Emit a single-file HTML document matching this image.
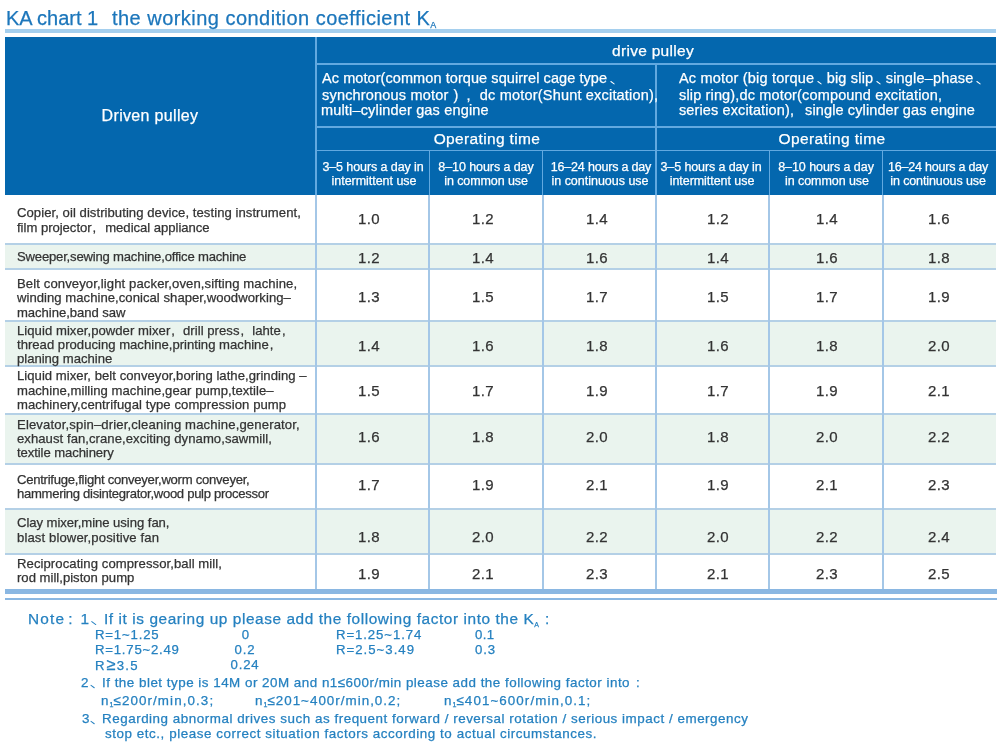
<!DOCTYPE html>
<html><head><meta charset="utf-8"><title>KA chart</title><style>
html,body{margin:0;padding:0;background:#fff;}
body{width:1000px;height:746px;position:relative;overflow:hidden;font-family:"Liberation Sans",sans-serif;}
.r{position:absolute;}
.t{position:absolute;white-space:pre;-webkit-text-stroke:0.25px currentColor;will-change:transform;}
.sub{font-size:9px;letter-spacing:0;vertical-align:-3px;}
.sub2{font-size:7px;letter-spacing:0;vertical-align:-3px;}
.sub3{font-size:7px;letter-spacing:0;vertical-align:-2px;}
.dun{display:inline-block;height:0;position:relative;}
.dun i{position:absolute;top:-0.24em;width:0.095em;height:0.36em;border-radius:0.05em;background:currentColor;transform:rotate(-54deg);}
</style></head><body>
<div class="r" style="left:5px;top:29px;width:991px;height:4px;background:#a5cfee"></div>
<div class="r" style="left:5px;top:37px;width:991px;height:158px;background:#0467ae"></div>
<div class="r" style="left:315px;top:37px;width:2px;height:158px;background:#62a9e0"></div>
<div class="r" style="left:317px;top:63px;width:679px;height:2px;background:#62a9e0"></div>
<div class="r" style="left:317px;top:126px;width:679px;height:2px;background:#62a9e0"></div>
<div class="r" style="left:317px;top:150px;width:679px;height:1px;background:#62a9e0"></div>
<div class="r" style="left:655px;top:65px;width:2px;height:130px;background:#62a9e0"></div>
<div class="r" style="left:429px;top:151px;width:1px;height:44px;background:#62a9e0"></div>
<div class="r" style="left:542px;top:151px;width:1px;height:44px;background:#62a9e0"></div>
<div class="r" style="left:769px;top:151px;width:1px;height:44px;background:#62a9e0"></div>
<div class="r" style="left:882px;top:151px;width:1px;height:44px;background:#62a9e0"></div>
<div class="r" style="left:5px;top:195px;width:991px;height:49px;background:#ffffff"></div>
<div class="r" style="left:5px;top:244px;width:991px;height:25px;background:#eaf4ee"></div>
<div class="r" style="left:5px;top:269px;width:991px;height:52px;background:#ffffff"></div>
<div class="r" style="left:5px;top:321px;width:991px;height:45px;background:#eaf4ee"></div>
<div class="r" style="left:5px;top:366px;width:991px;height:48px;background:#ffffff"></div>
<div class="r" style="left:5px;top:414px;width:991px;height:50px;background:#eaf4ee"></div>
<div class="r" style="left:5px;top:464px;width:991px;height:45px;background:#ffffff"></div>
<div class="r" style="left:5px;top:509px;width:991px;height:45px;background:#eaf4ee"></div>
<div class="r" style="left:5px;top:554px;width:991px;height:35px;background:#ffffff"></div>
<div class="r" style="left:5px;top:243px;width:991px;height:2px;background:#b4d0e6"></div>
<div class="r" style="left:5px;top:268px;width:991px;height:2px;background:#b4d0e6"></div>
<div class="r" style="left:5px;top:320px;width:991px;height:2px;background:#b4d0e6"></div>
<div class="r" style="left:5px;top:365px;width:991px;height:2px;background:#b4d0e6"></div>
<div class="r" style="left:5px;top:413px;width:991px;height:2px;background:#b4d0e6"></div>
<div class="r" style="left:5px;top:463px;width:991px;height:2px;background:#b4d0e6"></div>
<div class="r" style="left:5px;top:508px;width:991px;height:2px;background:#b4d0e6"></div>
<div class="r" style="left:5px;top:553px;width:991px;height:2px;background:#b4d0e6"></div>
<div class="r" style="left:315px;top:195px;width:2px;height:394px;background:#a4c7e7"></div>
<div class="r" style="left:428px;top:195px;width:2px;height:394px;background:#a4c7e7"></div>
<div class="r" style="left:542px;top:195px;width:2px;height:394px;background:#a4c7e7"></div>
<div class="r" style="left:655px;top:195px;width:2px;height:394px;background:#a4c7e7"></div>
<div class="r" style="left:768px;top:195px;width:2px;height:394px;background:#a4c7e7"></div>
<div class="r" style="left:882px;top:195px;width:2px;height:394px;background:#a4c7e7"></div>
<div class="r" style="left:5px;top:589px;width:992px;height:5px;background:#8ab7e2"></div>
<div class="r" style="left:5px;top:598px;width:992px;height:2px;background:#8ab7e2"></div>
<div class="t" style="top:7.60px;font-size:20px;line-height:20px;color:#1c76bb;letter-spacing:-0.015px;left:5.50px;">KA chart 1</div>
<div class="t" style="top:7.60px;font-size:20px;line-height:20px;color:#1c76bb;letter-spacing:0.466px;left:112.10px;">the working condition coefficient K<span class="sub">A</span></div>
<div class="t" style="top:107.50px;font-size:16px;line-height:16px;color:#ffffff;letter-spacing:0.333px;left:-49.62px;width:400px;text-align:center;">Driven pulley</div>
<div class="t" style="top:42.75px;font-size:15.5px;line-height:15.5px;color:#ffffff;letter-spacing:0.295px;left:453.06px;width:400px;text-align:center;">drive pulley</div>
<div class="t" style="top:130.95px;font-size:15.5px;line-height:15.5px;color:#ffffff;letter-spacing:0.349px;left:286.62px;width:400px;text-align:center;">Operating time</div>
<div class="t" style="top:130.95px;font-size:15.5px;line-height:15.5px;color:#ffffff;letter-spacing:0.368px;left:632.00px;width:400px;text-align:center;">Operating time</div>
<div class="t" style="top:70.75px;font-size:14.5px;line-height:14.5px;color:#ffffff;letter-spacing:0.074px;left:322.22px;">Ac motor(common torque squirrel cage type<span class="dun" style="width:0.85em"><i style="left:0.32em"></i></span></div>
<div class="t" style="top:87.75px;font-size:14.5px;line-height:14.5px;color:#ffffff;letter-spacing:0.191px;left:322.22px;">synchronous motor<span style="display:inline-block;width:5px"></span>)<span style="display:inline-block;width:8px"></span>,<span style="display:inline-block;width:9px"></span>dc motor(Shunt excitation),</div>
<div class="t" style="top:102.75px;font-size:14.5px;line-height:14.5px;color:#ffffff;letter-spacing:0.164px;left:321.42px;">multi–cylinder gas engine</div>
<div class="t" style="top:70.75px;font-size:14.5px;line-height:14.5px;color:#ffffff;letter-spacing:0.198px;left:678.50px;">Ac motor (big torque<span class="dun" style="width:0.85em"><i style="left:0.32em"></i></span>big slip<span class="dun" style="width:0.85em"><i style="left:0.32em"></i></span>single–phase<span class="dun" style="width:0.85em"><i style="left:0.32em"></i></span></div>
<div class="t" style="top:87.75px;font-size:14.5px;line-height:14.5px;color:#ffffff;letter-spacing:0.151px;left:678.50px;">slip ring),dc motor(compound excitation,</div>
<div class="t" style="top:102.75px;font-size:14.5px;line-height:14.5px;color:#ffffff;letter-spacing:0.118px;left:678.50px;">series excitation)<span style="display:inline-block;width:0px"></span>,<span style="display:inline-block;width:11px"></span>single cylinder gas engine</div>
<div class="t" style="top:160.75px;font-size:12.5px;line-height:12.5px;color:#ffffff;letter-spacing:-0.090px;left:307.50px;width:130px;text-align:center;">3–5 hours a day in</div>
<div class="t" style="top:174.75px;font-size:12.5px;line-height:12.5px;color:#ffffff;letter-spacing:-0.034px;left:308.66px;width:130px;text-align:center;">intermittent use</div>
<div class="t" style="top:160.75px;font-size:12.5px;line-height:12.5px;color:#ffffff;letter-spacing:-0.079px;left:421.16px;width:130px;text-align:center;">8–10 hours a day</div>
<div class="t" style="top:174.75px;font-size:12.5px;line-height:12.5px;color:#ffffff;letter-spacing:-0.090px;left:421.05px;width:130px;text-align:center;">in common use</div>
<div class="t" style="top:160.75px;font-size:12.5px;line-height:12.5px;color:#ffffff;letter-spacing:-0.185px;left:535.77px;width:130px;text-align:center;">16–24 hours a day</div>
<div class="t" style="top:174.75px;font-size:12.5px;line-height:12.5px;color:#ffffff;letter-spacing:-0.016px;left:535.27px;width:130px;text-align:center;">in continuous use</div>
<div class="t" style="top:160.75px;font-size:12.5px;line-height:12.5px;color:#ffffff;letter-spacing:-0.100px;left:646.10px;width:130px;text-align:center;">3–5 hours a day in</div>
<div class="t" style="top:174.75px;font-size:12.5px;line-height:12.5px;color:#ffffff;letter-spacing:-0.056px;left:646.60px;width:130px;text-align:center;">intermittent use</div>
<div class="t" style="top:160.75px;font-size:12.5px;line-height:12.5px;color:#ffffff;letter-spacing:-0.056px;left:761.10px;width:130px;text-align:center;">8–10 hours a day</div>
<div class="t" style="top:174.75px;font-size:12.5px;line-height:12.5px;color:#ffffff;letter-spacing:-0.069px;left:762.10px;width:130px;text-align:center;">in common use</div>
<div class="t" style="top:160.75px;font-size:12.5px;line-height:12.5px;color:#ffffff;letter-spacing:-0.212px;left:873.20px;width:130px;text-align:center;">16–24 hours a day</div>
<div class="t" style="top:174.75px;font-size:12.5px;line-height:12.5px;color:#ffffff;letter-spacing:-0.106px;left:872.70px;width:130px;text-align:center;">in continuous use</div>
<div class="t" style="top:205.95px;font-size:13.1px;line-height:13.1px;color:#333333;letter-spacing:0.057px;left:17.46px;">Copier, oil distributing device, testing instrument,</div>
<div class="t" style="top:220.95px;font-size:13.1px;line-height:13.1px;color:#333333;letter-spacing:-0.025px;left:17.46px;">film projector<span style="display:inline-block;width:1px"></span>,<span style="display:inline-block;width:9px"></span>medical appliance</div>
<div class="t" style="top:249.95px;font-size:13.1px;line-height:13.1px;color:#333333;letter-spacing:-0.195px;left:16.66px;">Sweeper,sewing machine,office machine</div>
<div class="t" style="top:276.95px;font-size:13.1px;line-height:13.1px;color:#333333;letter-spacing:0.107px;left:16.66px;">Belt conveyor,light packer,oven,sifting machine,</div>
<div class="t" style="top:290.95px;font-size:13.1px;line-height:13.1px;color:#333333;letter-spacing:0.038px;left:17.46px;">winding machine,conical shaper,woodworking–</div>
<div class="t" style="top:305.95px;font-size:13.1px;line-height:13.1px;color:#333333;letter-spacing:-0.045px;left:16.66px;">machine,band saw</div>
<div class="t" style="top:323.95px;font-size:13.1px;line-height:13.1px;color:#333333;letter-spacing:0.048px;left:16.66px;">Liquid mixer,powder mixer<span style="display:inline-block;width:1px"></span>,<span style="display:inline-block;width:8px"></span>drill press<span style="display:inline-block;width:1px"></span>,<span style="display:inline-block;width:8px"></span>lahte<span style="display:inline-block;width:1px"></span>,<span style="display:inline-block;width:0px"></span></div>
<div class="t" style="top:337.95px;font-size:13.1px;line-height:13.1px;color:#333333;letter-spacing:0.014px;left:17.46px;">thread producing machine,printing machine<span style="display:inline-block;width:1px"></span>,<span style="display:inline-block;width:0px"></span></div>
<div class="t" style="top:351.95px;font-size:13.1px;line-height:13.1px;color:#333333;letter-spacing:-0.012px;left:16.66px;">planing machine</div>
<div class="t" style="top:368.95px;font-size:13.1px;line-height:13.1px;color:#333333;letter-spacing:0.041px;left:16.66px;">Liquid mixer, belt conveyor,boring lathe,grinding –</div>
<div class="t" style="top:383.95px;font-size:13.1px;line-height:13.1px;color:#333333;letter-spacing:0.045px;left:16.66px;">machine,milling machine,gear pump,textile–</div>
<div class="t" style="top:397.95px;font-size:13.1px;line-height:13.1px;color:#333333;letter-spacing:0.071px;left:16.66px;">machinery,centrifugal type compression pump</div>
<div class="t" style="top:417.95px;font-size:13.1px;line-height:13.1px;color:#333333;letter-spacing:0.149px;left:16.66px;">Elevator,spin–drier,cleaning machine,generator,</div>
<div class="t" style="top:431.95px;font-size:13.1px;line-height:13.1px;color:#333333;letter-spacing:0.056px;left:17.46px;">exhaust fan,crane,exciting dynamo,sawmill,</div>
<div class="t" style="top:445.95px;font-size:13.1px;line-height:13.1px;color:#333333;letter-spacing:-0.085px;left:17.46px;">textile machinery</div>
<div class="t" style="top:472.95px;font-size:13.1px;line-height:13.1px;color:#333333;letter-spacing:-0.259px;left:17.46px;">Centrifuge,flight conveyer,worm conveyer,</div>
<div class="t" style="top:486.95px;font-size:13.1px;line-height:13.1px;color:#333333;letter-spacing:-0.306px;left:16.66px;">hammering disintegrator,wood pulp processor</div>
<div class="t" style="top:515.95px;font-size:13.1px;line-height:13.1px;color:#333333;letter-spacing:-0.042px;left:17.46px;">Clay mixer,mine using fan,</div>
<div class="t" style="top:530.95px;font-size:13.1px;line-height:13.1px;color:#333333;letter-spacing:0.122px;left:16.66px;">blast blower,positive fan</div>
<div class="t" style="top:556.95px;font-size:13.1px;line-height:13.1px;color:#333333;letter-spacing:0.077px;left:16.66px;">Reciprocating compressor,ball mill,</div>
<div class="t" style="top:570.95px;font-size:13.1px;line-height:13.1px;color:#333333;letter-spacing:0.009px;left:16.66px;">rod mill,piston pump</div>
<div class="t" style="top:210.60px;font-size:15px;line-height:15px;color:#333333;letter-spacing:0.300px;left:328.80px;width:80px;text-align:center;">1.0</div>
<div class="t" style="top:210.60px;font-size:15px;line-height:15px;color:#333333;letter-spacing:0.300px;left:442.60px;width:80px;text-align:center;">1.2</div>
<div class="t" style="top:210.60px;font-size:15px;line-height:15px;color:#333333;letter-spacing:0.300px;left:557.20px;width:80px;text-align:center;">1.4</div>
<div class="t" style="top:210.60px;font-size:15px;line-height:15px;color:#333333;letter-spacing:0.300px;left:677.50px;width:80px;text-align:center;">1.2</div>
<div class="t" style="top:210.60px;font-size:15px;line-height:15px;color:#333333;letter-spacing:0.300px;left:787.40px;width:80px;text-align:center;">1.4</div>
<div class="t" style="top:210.60px;font-size:15px;line-height:15px;color:#333333;letter-spacing:0.300px;left:898.60px;width:80px;text-align:center;">1.6</div>
<div class="t" style="top:249.90px;font-size:15px;line-height:15px;color:#333333;letter-spacing:0.300px;left:328.80px;width:80px;text-align:center;">1.2</div>
<div class="t" style="top:249.90px;font-size:15px;line-height:15px;color:#333333;letter-spacing:0.300px;left:442.60px;width:80px;text-align:center;">1.4</div>
<div class="t" style="top:249.90px;font-size:15px;line-height:15px;color:#333333;letter-spacing:0.300px;left:557.20px;width:80px;text-align:center;">1.6</div>
<div class="t" style="top:249.90px;font-size:15px;line-height:15px;color:#333333;letter-spacing:0.300px;left:677.50px;width:80px;text-align:center;">1.4</div>
<div class="t" style="top:249.90px;font-size:15px;line-height:15px;color:#333333;letter-spacing:0.300px;left:787.40px;width:80px;text-align:center;">1.6</div>
<div class="t" style="top:249.90px;font-size:15px;line-height:15px;color:#333333;letter-spacing:0.300px;left:898.60px;width:80px;text-align:center;">1.8</div>
<div class="t" style="top:289.10px;font-size:15px;line-height:15px;color:#333333;letter-spacing:0.300px;left:328.80px;width:80px;text-align:center;">1.3</div>
<div class="t" style="top:289.10px;font-size:15px;line-height:15px;color:#333333;letter-spacing:0.300px;left:442.60px;width:80px;text-align:center;">1.5</div>
<div class="t" style="top:289.10px;font-size:15px;line-height:15px;color:#333333;letter-spacing:0.300px;left:557.20px;width:80px;text-align:center;">1.7</div>
<div class="t" style="top:289.10px;font-size:15px;line-height:15px;color:#333333;letter-spacing:0.300px;left:677.50px;width:80px;text-align:center;">1.5</div>
<div class="t" style="top:289.10px;font-size:15px;line-height:15px;color:#333333;letter-spacing:0.300px;left:787.40px;width:80px;text-align:center;">1.7</div>
<div class="t" style="top:289.10px;font-size:15px;line-height:15px;color:#333333;letter-spacing:0.300px;left:898.60px;width:80px;text-align:center;">1.9</div>
<div class="t" style="top:337.50px;font-size:15px;line-height:15px;color:#333333;letter-spacing:0.300px;left:328.80px;width:80px;text-align:center;">1.4</div>
<div class="t" style="top:337.50px;font-size:15px;line-height:15px;color:#333333;letter-spacing:0.300px;left:442.60px;width:80px;text-align:center;">1.6</div>
<div class="t" style="top:337.50px;font-size:15px;line-height:15px;color:#333333;letter-spacing:0.300px;left:557.20px;width:80px;text-align:center;">1.8</div>
<div class="t" style="top:337.50px;font-size:15px;line-height:15px;color:#333333;letter-spacing:0.300px;left:677.50px;width:80px;text-align:center;">1.6</div>
<div class="t" style="top:337.50px;font-size:15px;line-height:15px;color:#333333;letter-spacing:0.300px;left:787.40px;width:80px;text-align:center;">1.8</div>
<div class="t" style="top:337.50px;font-size:15px;line-height:15px;color:#333333;letter-spacing:0.300px;left:898.60px;width:80px;text-align:center;">2.0</div>
<div class="t" style="top:383.40px;font-size:15px;line-height:15px;color:#333333;letter-spacing:0.300px;left:328.80px;width:80px;text-align:center;">1.5</div>
<div class="t" style="top:383.40px;font-size:15px;line-height:15px;color:#333333;letter-spacing:0.300px;left:442.60px;width:80px;text-align:center;">1.7</div>
<div class="t" style="top:383.40px;font-size:15px;line-height:15px;color:#333333;letter-spacing:0.300px;left:557.20px;width:80px;text-align:center;">1.9</div>
<div class="t" style="top:383.40px;font-size:15px;line-height:15px;color:#333333;letter-spacing:0.300px;left:677.50px;width:80px;text-align:center;">1.7</div>
<div class="t" style="top:383.40px;font-size:15px;line-height:15px;color:#333333;letter-spacing:0.300px;left:787.40px;width:80px;text-align:center;">1.9</div>
<div class="t" style="top:383.40px;font-size:15px;line-height:15px;color:#333333;letter-spacing:0.300px;left:898.60px;width:80px;text-align:center;">2.1</div>
<div class="t" style="top:429.40px;font-size:15px;line-height:15px;color:#333333;letter-spacing:0.300px;left:328.80px;width:80px;text-align:center;">1.6</div>
<div class="t" style="top:429.40px;font-size:15px;line-height:15px;color:#333333;letter-spacing:0.300px;left:442.60px;width:80px;text-align:center;">1.8</div>
<div class="t" style="top:429.40px;font-size:15px;line-height:15px;color:#333333;letter-spacing:0.300px;left:557.20px;width:80px;text-align:center;">2.0</div>
<div class="t" style="top:429.40px;font-size:15px;line-height:15px;color:#333333;letter-spacing:0.300px;left:677.50px;width:80px;text-align:center;">1.8</div>
<div class="t" style="top:429.40px;font-size:15px;line-height:15px;color:#333333;letter-spacing:0.300px;left:787.40px;width:80px;text-align:center;">2.0</div>
<div class="t" style="top:429.40px;font-size:15px;line-height:15px;color:#333333;letter-spacing:0.300px;left:898.60px;width:80px;text-align:center;">2.2</div>
<div class="t" style="top:476.90px;font-size:15px;line-height:15px;color:#333333;letter-spacing:0.300px;left:328.80px;width:80px;text-align:center;">1.7</div>
<div class="t" style="top:476.90px;font-size:15px;line-height:15px;color:#333333;letter-spacing:0.300px;left:442.60px;width:80px;text-align:center;">1.9</div>
<div class="t" style="top:476.90px;font-size:15px;line-height:15px;color:#333333;letter-spacing:0.300px;left:557.20px;width:80px;text-align:center;">2.1</div>
<div class="t" style="top:476.90px;font-size:15px;line-height:15px;color:#333333;letter-spacing:0.300px;left:677.50px;width:80px;text-align:center;">1.9</div>
<div class="t" style="top:476.90px;font-size:15px;line-height:15px;color:#333333;letter-spacing:0.300px;left:787.40px;width:80px;text-align:center;">2.1</div>
<div class="t" style="top:476.90px;font-size:15px;line-height:15px;color:#333333;letter-spacing:0.300px;left:898.60px;width:80px;text-align:center;">2.3</div>
<div class="t" style="top:528.70px;font-size:15px;line-height:15px;color:#333333;letter-spacing:0.300px;left:328.80px;width:80px;text-align:center;">1.8</div>
<div class="t" style="top:528.70px;font-size:15px;line-height:15px;color:#333333;letter-spacing:0.300px;left:442.60px;width:80px;text-align:center;">2.0</div>
<div class="t" style="top:528.70px;font-size:15px;line-height:15px;color:#333333;letter-spacing:0.300px;left:557.20px;width:80px;text-align:center;">2.2</div>
<div class="t" style="top:528.70px;font-size:15px;line-height:15px;color:#333333;letter-spacing:0.300px;left:677.50px;width:80px;text-align:center;">2.0</div>
<div class="t" style="top:528.70px;font-size:15px;line-height:15px;color:#333333;letter-spacing:0.300px;left:787.40px;width:80px;text-align:center;">2.2</div>
<div class="t" style="top:528.70px;font-size:15px;line-height:15px;color:#333333;letter-spacing:0.300px;left:898.60px;width:80px;text-align:center;">2.4</div>
<div class="t" style="top:566.20px;font-size:15px;line-height:15px;color:#333333;letter-spacing:0.300px;left:328.80px;width:80px;text-align:center;">1.9</div>
<div class="t" style="top:566.20px;font-size:15px;line-height:15px;color:#333333;letter-spacing:0.300px;left:442.60px;width:80px;text-align:center;">2.1</div>
<div class="t" style="top:566.20px;font-size:15px;line-height:15px;color:#333333;letter-spacing:0.300px;left:557.20px;width:80px;text-align:center;">2.3</div>
<div class="t" style="top:566.20px;font-size:15px;line-height:15px;color:#333333;letter-spacing:0.300px;left:677.50px;width:80px;text-align:center;">2.1</div>
<div class="t" style="top:566.20px;font-size:15px;line-height:15px;color:#333333;letter-spacing:0.300px;left:787.40px;width:80px;text-align:center;">2.3</div>
<div class="t" style="top:566.20px;font-size:15px;line-height:15px;color:#333333;letter-spacing:0.300px;left:898.60px;width:80px;text-align:center;">2.5</div>
<div class="t" style="top:610.80px;font-size:15.4px;line-height:15.4px;color:#2581c0;letter-spacing:1.156px;left:28.34px;">Note<span style="display:inline-block;width:3px"></span>:<span style="display:inline-block;width:7px"></span>1<span class="dun" style="width:0.9em"><i style="left:0.2em"></i></span></div>
<div class="t" style="top:610.80px;font-size:15.4px;line-height:15.4px;color:#2581c0;letter-spacing:0.579px;left:103.70px;">If it is gearing up please add the following factor into the K<span class="sub2">A</span><span style="display:inline-block;width:6px"></span>:</div>
<div class="t" style="top:628.40px;font-size:13.2px;line-height:13.2px;color:#2581c0;letter-spacing:0.825px;left:95.00px;">R=1~1.25</div>
<div class="t" style="top:642.90px;font-size:13.2px;line-height:13.2px;color:#2581c0;letter-spacing:0.764px;left:95.00px;">R=1.75~2.49</div>
<div class="t" style="top:658.40px;font-size:13.2px;line-height:13.2px;color:#2581c0;letter-spacing:1.200px;left:95.00px;">R<span style="font-size:16.5px;letter-spacing:1.5px;margin-left:0.5px">≥</span>3.5</div>
<div class="t" style="top:628.40px;font-size:13.2px;line-height:13.2px;color:#2581c0;letter-spacing:9.330px;left:219.52px;width:60px;text-align:center;">0</div>
<div class="t" style="top:642.90px;font-size:13.2px;line-height:13.2px;color:#2581c0;letter-spacing:0.900px;left:215.40px;width:60px;text-align:center;">0.2</div>
<div class="t" style="top:658.40px;font-size:13.2px;line-height:13.2px;color:#2581c0;letter-spacing:0.825px;left:215.40px;width:60px;text-align:center;">0.24</div>
<div class="t" style="top:628.40px;font-size:13.2px;line-height:13.2px;color:#2581c0;letter-spacing:0.911px;left:336.00px;">R=1.25~1.74</div>
<div class="t" style="top:642.90px;font-size:13.2px;line-height:13.2px;color:#2581c0;letter-spacing:1.005px;left:336.00px;">R=2.5~3.49</div>
<div class="t" style="top:628.40px;font-size:13.2px;line-height:13.2px;color:#2581c0;letter-spacing:0.330px;left:474.80px;">0.1</div>
<div class="t" style="top:642.90px;font-size:13.2px;line-height:13.2px;color:#2581c0;letter-spacing:0.900px;left:474.80px;">0.3</div>
<div class="t" style="top:675.70px;font-size:13.4px;line-height:13.4px;color:#2581c0;letter-spacing:1.112px;left:80.80px;">2<span class="dun" style="width:0.9em"><i style="left:0.15em"></i></span></div>
<div class="t" style="top:675.70px;font-size:13.4px;line-height:13.4px;color:#2581c0;letter-spacing:0.498px;left:101.66px;">If the blet type is 14M or 20M and n1≤600r/min please add the following factor into<span style="display:inline-block;width:6px"></span>:</div>
<div class="t" style="top:693.90px;font-size:13.4px;line-height:13.4px;color:#2581c0;letter-spacing:1.090px;left:101.48px;">n<span class="sub3">1</span>≤200r/min,0.3;</div>
<div class="t" style="top:693.90px;font-size:13.4px;line-height:13.4px;color:#2581c0;letter-spacing:1.011px;left:255.28px;">n<span class="sub3">1</span>≤201~400r/min,0.2;</div>
<div class="t" style="top:693.90px;font-size:13.4px;line-height:13.4px;color:#2581c0;letter-spacing:1.073px;left:443.70px;">n<span class="sub3">1</span>≤401~600r/min,0.1;</div>
<div class="t" style="top:712.10px;font-size:13.4px;line-height:13.4px;color:#2581c0;letter-spacing:0.500px;left:82.04px;">3<span class="dun" style="width:0.9em"><i style="left:0.15em"></i></span></div>
<div class="t" style="top:712.10px;font-size:13.4px;line-height:13.4px;color:#2581c0;letter-spacing:0.531px;left:102.18px;">Regarding abnormal drives such as frequent forward / reversal rotation / serious impact / emergency</div>
<div class="t" style="top:726.90px;font-size:13.4px;line-height:13.4px;color:#2581c0;letter-spacing:0.554px;left:104.74px;">stop etc., please correct situation factors according to actual circumstances.</div>
</body></html>
